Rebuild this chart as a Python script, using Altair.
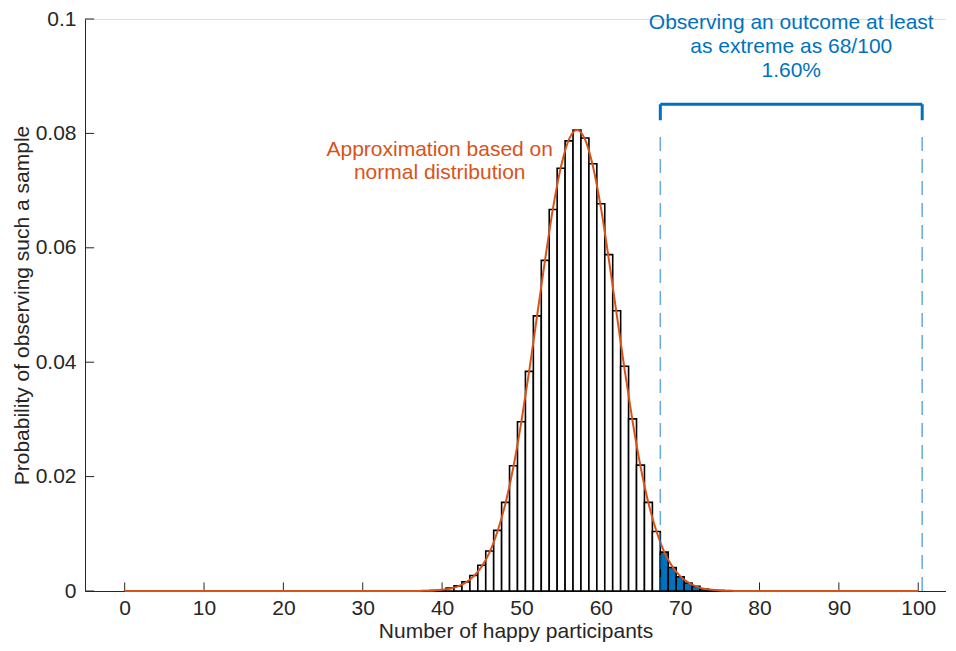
import altair as alt
import pandas as pd

# ---- data ----
bar_k = list(range(38, 77))
bar_p = [0.00005, 0.0001, 0.0002, 0.0005, 0.0009, 0.0016, 0.0027, 0.0045, 0.0070, 0.0106,
         0.0155, 0.0219, 0.0296, 0.0384, 0.0481, 0.0578, 0.0667, 0.0739, 0.0787, 0.0806,
         0.0792, 0.0747, 0.0677, 0.0588, 0.0490, 0.0393, 0.0301, 0.0220, 0.0155, 0.0104,
         0.0068, 0.0041, 0.0025, 0.0014, 0.0008, 0.0004, 0.0002, 0.0001, 0.00005]
threshold = 68

line_x = [0, 20, 36, 37] + list(range(38, 77)) + [77, 78, 90, 100]
line_y = [0, 0, 0, 0.00002,
          0.00005, 0.0001, 0.0002, 0.0004, 0.0008, 0.0015, 0.0026, 0.0043, 0.0068, 0.0105,
          0.0154, 0.0218, 0.0297, 0.0387, 0.0484, 0.0581, 0.0671, 0.0743, 0.0790, 0.0806,
          0.0790, 0.0743, 0.0671, 0.0581, 0.0484, 0.0387, 0.0297, 0.0218, 0.0154, 0.0105,
          0.0068, 0.0043, 0.0026, 0.0015, 0.0008, 0.0004, 0.0002, 0.0001, 0.00005,
          0.00002, 0, 0, 0]

x_ticks = [0, 10, 20, 30, 40, 50, 60, 70, 80, 90, 100]
y_ticks = [0, 0.02, 0.04, 0.06, 0.08, 0.1]

region_lo, region_hi = 67.5, 100.5
bracket_y = 0.0851
bracket_drop = 0.0823
dash_top = 0.0804

blue_text = ["Observing an outcome at least", "as extreme as 68/100", "1.60%"]
orange_text = ["Approximation based on", "normal distribution"]

BLUE = "#0072BD"
ORANGE = "#D95319"
INK = "#262626"
FONT = "Liberation Sans"
FS = 21

xs = alt.Scale(domain=[-5, 103.5], nice=False, zero=False)
ys = alt.Scale(domain=[0, 0.1], nice=False)

bars_df = pd.DataFrame({"k": bar_k, "p": bar_p})
bars_df["lo"] = bars_df["k"] - 0.5
bars_df["hi"] = bars_df["k"] + 0.5
bars_df["ext"] = bars_df["k"] >= threshold

line_df = pd.DataFrame({"x": line_x, "y": line_y})

base_x_axis = alt.Axis(values=x_ticks, tickSize=0, labelPadding=6, grid=False,
                       domainColor=INK, labelColor=INK, titleColor=INK,
                       labelFont=FONT, titleFont=FONT, labelFontSize=FS, titleFontSize=FS,
                       titleFontWeight="normal", titlePadding=2)
base_y_axis = alt.Axis(values=y_ticks, tickSize=0, labelPadding=9, grid=False, format=".2~f",
                       domainColor=INK, labelColor=INK, titleColor=INK,
                       labelFont=FONT, titleFont=FONT, labelFontSize=FS, titleFontSize=FS,
                       titleFontWeight="normal", titlePadding=3)

# inward tick marks (MATLAB style)
xt_df = pd.DataFrame({"x": x_ticks, "y0": [0.0] * len(x_ticks), "y1": [0.0015] * len(x_ticks)})
yt_df = pd.DataFrame({"y": y_ticks, "x0": [-5.0] * len(y_ticks), "x1": [-3.85] * len(y_ticks)})

xticks = alt.Chart(xt_df).mark_rule(color=INK, strokeWidth=1).encode(
    x=alt.X("x:Q", scale=xs, axis=base_x_axis, title="Number of happy participants"),
    y=alt.Y("y0:Q", scale=ys, axis=base_y_axis, title="Probability of observing such a sample"),
    y2="y1:Q",
)
yticks = alt.Chart(yt_df).mark_rule(color=INK, strokeWidth=1).encode(
    x=alt.X("x0:Q", scale=xs), x2="x1:Q", y=alt.Y("y:Q", scale=ys)
)

bars = alt.Chart(bars_df).mark_bar(stroke="black", strokeWidth=1.6).encode(
    x=alt.X("lo:Q", scale=xs),
    x2="hi:Q",
    y=alt.Y("p:Q", scale=ys),
    y2=alt.datum(0),
    fill=alt.Fill("ext:N", scale=alt.Scale(domain=[False, True], range=["white", BLUE]), legend=None),
)

curve = alt.Chart(line_df).mark_line(color=ORANGE, strokeWidth=2, interpolate="monotone").encode(
    x=alt.X("x:Q", scale=xs), y=alt.Y("y:Q", scale=ys)
)

dash_df = pd.DataFrame({"x": [region_lo, region_hi], "y0": [0.0, 0.0], "y1": [dash_top, dash_top]})
dashes = alt.Chart(dash_df).mark_rule(color=BLUE, opacity=0.6, strokeWidth=1.5, strokeDash=[14, 8]).encode(
    x=alt.X("x:Q", scale=xs), y=alt.Y("y0:Q", scale=ys), y2="y1:Q"
)

br_h = alt.Chart(pd.DataFrame({"a": [region_lo], "b": [region_hi], "y": [bracket_y]})).mark_rule(
    color=BLUE, strokeWidth=3).encode(x=alt.X("a:Q", scale=xs), x2="b:Q", y=alt.Y("y:Q", scale=ys))
br_v = alt.Chart(pd.DataFrame({"x": [region_lo, region_hi], "y0": [bracket_drop] * 2, "y1": [bracket_y] * 2})).mark_rule(
    color=BLUE, strokeWidth=3).encode(x=alt.X("x:Q", scale=xs), y=alt.Y("y0:Q", scale=ys), y2="y1:Q")

txt_blue = alt.Chart(pd.DataFrame({"x": [84.0], "y": [0.0993], "t": [blue_text]})).mark_text(
    color=BLUE, font=FONT, fontSize=FS, align="center", baseline="middle", lineHeight=24).encode(
    x=alt.X("x:Q", scale=xs), y=alt.Y("y:Q", scale=ys), text="t")
txt_orange = alt.Chart(pd.DataFrame({"x": [39.7], "y": [0.0771], "t": [orange_text]})).mark_text(
    color=ORANGE, font=FONT, fontSize=FS, align="center", baseline="middle", lineHeight=23).encode(
    x=alt.X("x:Q", scale=xs), y=alt.Y("y:Q", scale=ys), text="t")

chart = alt.layer(xticks, yticks, bars, curve, dashes, br_h, br_v, txt_blue, txt_orange).properties(
    width=861, height=572,
    autosize=alt.AutoSizeParams(type="none"),
    padding={"left": 77, "top": 11, "right": 0, "bottom": 52},
).configure_view(stroke=None).configure(background="white")

chart.save("out.html", embed_options={"renderer": "svg", "actions": False})
